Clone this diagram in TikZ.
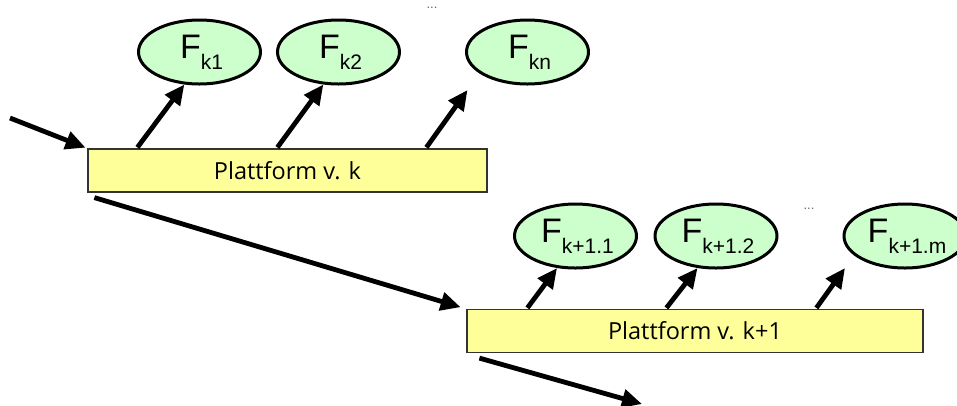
\documentclass[tikz,border=0pt]{standalone}
\usepackage{fontspec}
\setmainfont{Liberation Sans}
\newfontfamily\boxfont{Open Sans}
\usetikzlibrary{shapes.geometric,arrows.meta,calc}
\definecolor{boxyellow}{HTML}{FFFF99}
\definecolor{ellgreen}{HTML}{CCFFCC}
\tikzset{
  platform/.style={draw=black!80, line width=1.2pt, fill=boxyellow, minimum width=#1, minimum height=43, inner sep=0, font=\boxfont\fontsize{23.5}{23.5}\selectfont},
  feat/.style={ellipse, draw=black, line width=3pt, fill=ellgreen, minimum width=122, minimum height=64, inner sep=0, font=\fontsize{34}{34}\selectfont},
  arr/.style={line width=4.8pt, -{Triangle[length=20,width=18]}},
  dots/.style={font=\fontsize{13}{13}\selectfont, text=black!60}
}
\newcommand{\flab}[1]{\hspace*{4pt}F\raisebox{-11pt}{\fontsize{21}{21}\selectfont #1}}
\begin{document}
\begin{tikzpicture}[x=1pt,y=-1pt]
\useasboundingbox (0,0) rectangle (957,405);
% platforms
\node[platform=399] (b1) at (287.5,170.5) {Plattform v. k};
\node[platform=456] (b2) at (695,331) {Plattform v. k+1};
% features
\node[feat] (e1) at (199.5,52) {\flab{k1}};
\node[feat] (e2) at (338.5,52) {\flab{k2}};
\node[feat] (e3) at (527.5,52) {\flab{kn}};
\node[dots] (d1) at (432,8) {...};
\node[feat] (f1) at (575.5,236) {\flab{k+1.1}};
\node[feat] (f2) at (716,236) {\flab{k+1.2}};
\node[feat] (f3) at (905,236) {\flab{k+1.m}};
\node[dots] (d2) at (809,209) {...};
% coordinates
\coordinate (in) at (10,118);
\coordinate (out) at (642,404);
\coordinate (s1) at ($(b1.north west)+(50,-1)$);
\coordinate (s2) at ($(b1.north west)+(190,-1)$);
\coordinate (s3) at ($(b1.north west)+(339,-1)$);
\coordinate (t3) at ($(e3)+(-60,38)$);
\coordinate (u1) at ($(b2.north west)+(61,-1)$);
\coordinate (u2) at ($(b2.north west)+(200,-1)$);
\coordinate (u3) at ($(b2.north west)+(350,-1)$);
\coordinate (v3) at ($(f3)+(-60,32)$);
% connectors
\draw[arr, shorten >=2pt] (in) -- (b1.north west);
\draw[arr] (s1) -- (e1.245);
\draw[arr] (s2) -- (e2.245);
\draw[arr] (s3) -- (t3);
\draw[arr, shorten >=6pt] ($(b1.south west)+(7,5)$) -- (b2.north west);
\draw[arr] (u1) -- (f1.240);
\draw[arr] (u2) -- (f2.240);
\draw[arr] (u3) -- (v3);
\draw[arr] ($(b2.south west)+(13,5)$) -- (out);
\end{tikzpicture}
\end{document}
